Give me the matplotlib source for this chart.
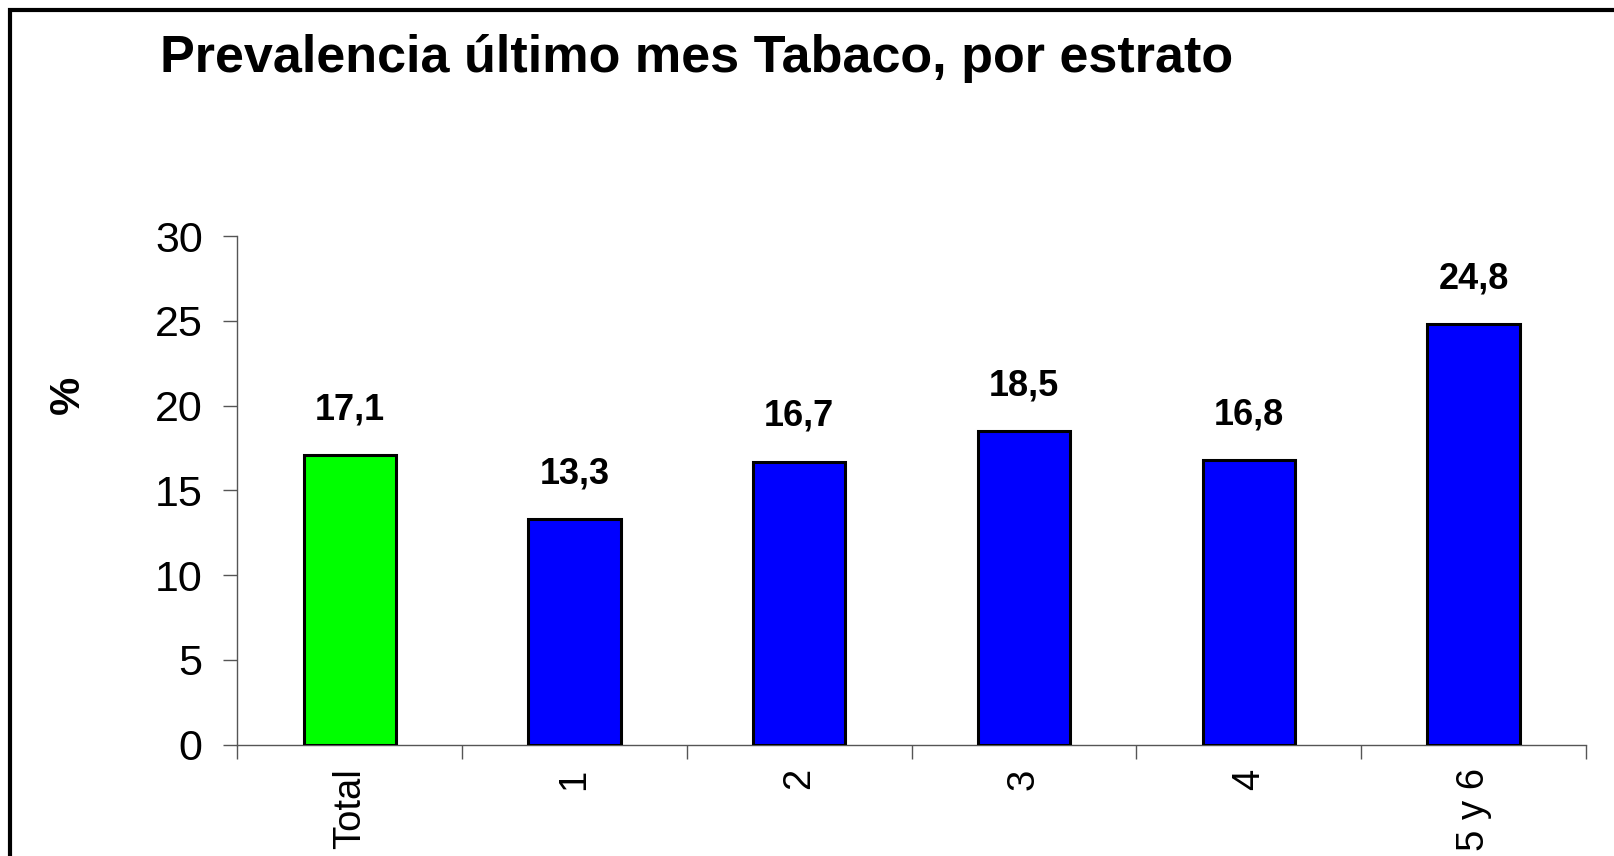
import matplotlib.pyplot as plt
from matplotlib.patches import Rectangle
import numpy as np

plt.rcParams['font.family'] = ['Liberation Sans', 'DejaVu Sans']

# datos
estratos = ["Total", "1", "2", "3", "4", "5 y 6"]
prevalencia = [17.1, 13.3, 16.7, 18.5, 16.8, 24.8]
colores = ["#00FF00", "#0000FF", "#0000FF", "#0000FF", "#0000FF", "#0000FF"]
yticks = [0, 5, 10, 15, 20, 25, 30]

fig = plt.figure(figsize=(16.15, 8.56), dpi=100)
ax = fig.add_axes([0.147, 0.130, 0.835, 0.594])

x = np.arange(len(estratos))
ax.bar(x, prevalencia, width=0.41, color=colores, edgecolor="black", linewidth=2.2, zorder=3)

# etiquetas de valor
for xi, v in zip(x, prevalencia):
    lab = f"{v:.1f}".replace(".", ",")
    ax.annotate(lab, (xi, v), xytext=(0, 20), textcoords="offset points",
                ha="center", va="bottom", fontsize=26, fontweight="bold")

ax.set_xlim(-0.5, len(estratos) - 0.5)
ax.set_ylim(0, 30)
ax.set_yticks(yticks)
ax.set_yticklabels([str(t) for t in yticks], fontsize=31)
ax.set_xticks(x)
ax.set_xticklabels(estratos, rotation=90, fontsize=27.5, va="top")
ax.set_xticks(np.arange(len(estratos) + 1) - 0.5, minor=True)
ax.tick_params(axis="x", which="major", length=0, pad=17)
ax.tick_params(axis="x", which="minor", length=10, width=1, color="#555555")
ax.tick_params(axis="y", length=10, width=1, color="#555555", pad=15)

for s in ["top", "right"]:
    ax.spines[s].set_visible(False)
for s in ["left", "bottom"]:
    ax.spines[s].set_color("#555555")
    ax.spines[s].set_linewidth(1)

ax.set_ylabel("%", fontsize=31, fontweight="bold", va="center", ha="center")
ax.yaxis.set_label_coords(-0.126, 0.688)

fig.text(0.099, 0.932, "Prevalencia último mes Tabaco, por estrato",
         fontsize=37.5, fontweight="bold", ha="left", va="center")

# marco exterior
fig.patches.append(Rectangle((10 / 1615, -0.1), 1.2, 1 - 10 / 856 + 0.1,
                             transform=fig.transFigure, fill=False,
                             edgecolor="black", linewidth=3))

fig.savefig("out.png", dpi=100)
